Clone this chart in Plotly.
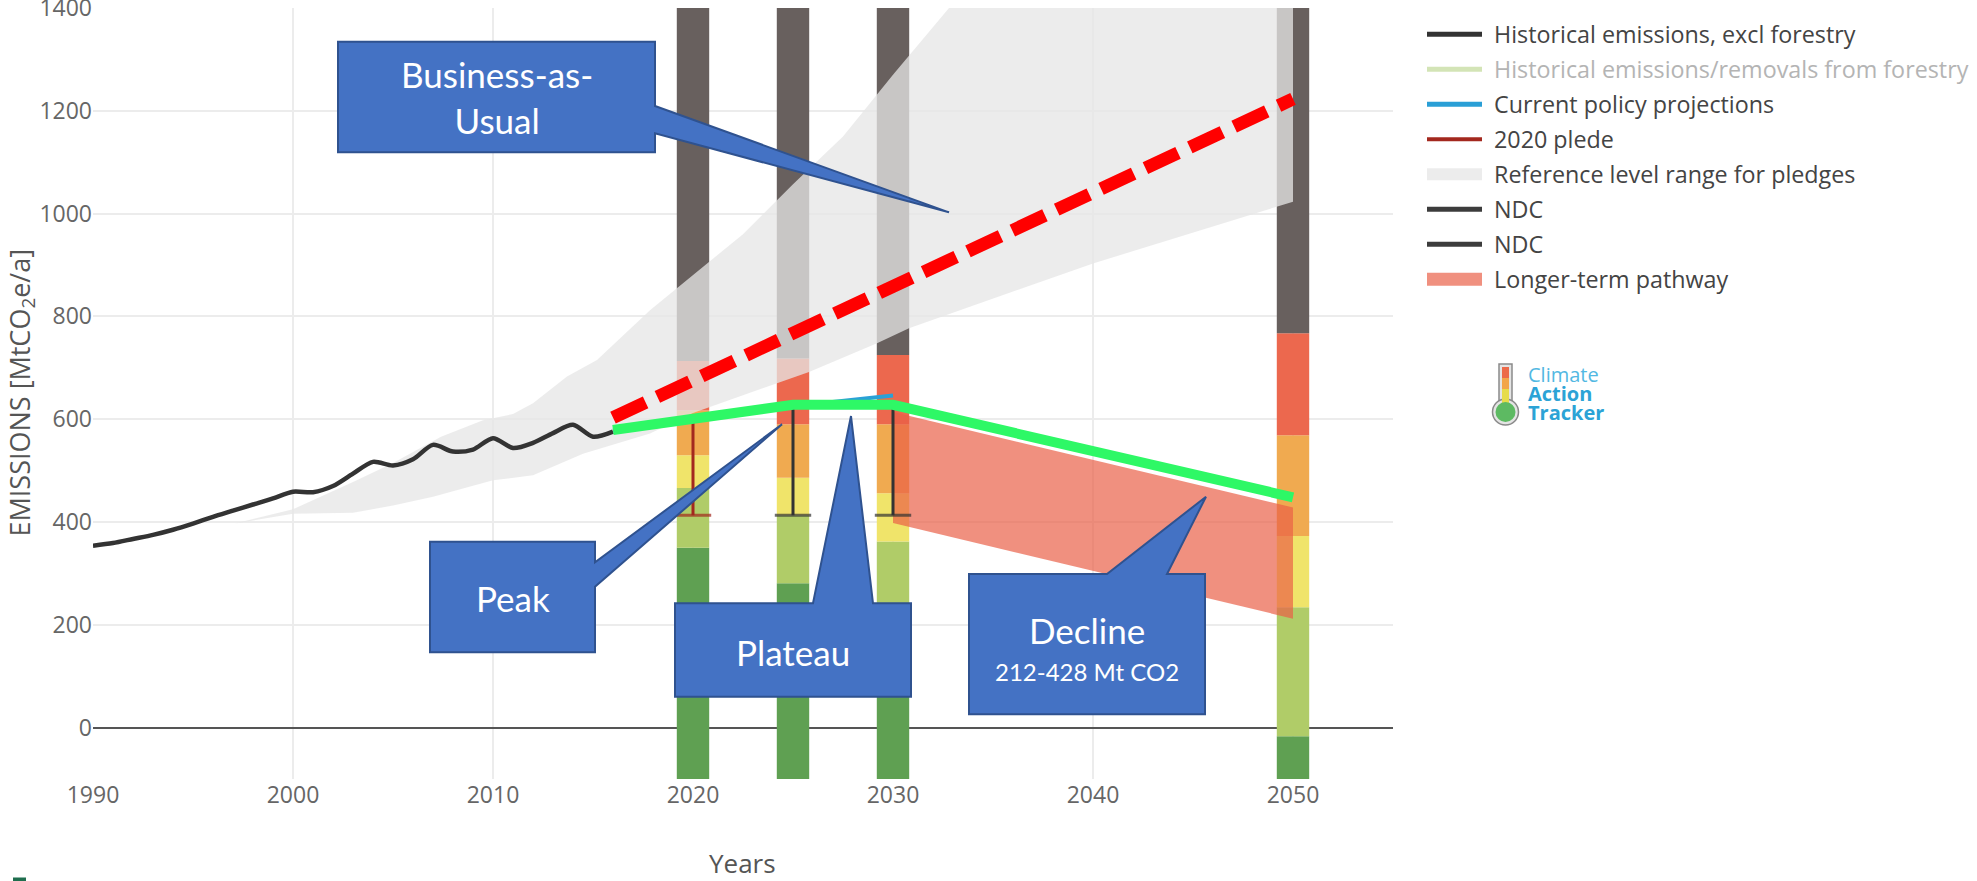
import plotly.graph_objects as go

# ---------------- data (MtCO2e/a) ----------------
hist_years = list(range(1990, 2017))
hist_emissions = [354, 359, 367, 375, 385, 397, 410, 422, 434, 446, 459, 458, 470, 494,
                  517, 510, 522, 550, 537, 541, 563, 544, 554, 573, 589, 566, 576]

# reference level range for pledges: lower and upper edge
ref_low_years = [1997.1, 2000, 2003, 2005, 2007, 2010, 2012, 2014.5, 2017.85, 2020,
                 2024.2, 2025.8, 2029.2, 2030.8, 2040, 2049.2, 2050]
ref_low = [397, 416, 418, 432, 449, 481, 491, 533, 572, 612,
           670, 692, 748, 777, 903, 1014, 1023]
ref_high_years = [1997.1, 2000, 2003, 2005, 2007.4, 2009.5, 2011, 2012, 2013.7, 2015.2,
                  2017.85, 2020, 2022.5, 2025, 2027.5, 2030, 2032.8, 2035, 2050]
ref_high = [397, 425, 478, 515, 566, 598, 610, 631, 683, 715,
            812, 880, 960, 1057, 1150, 1270, 1400, 1500, 2100]

# rating bands behind the target years (upper bound of each coloured segment)
bar_years = [2020, 2025, 2030, 2050]
bar_floor = [-100, -100, -100, -100]
seg_dark_green = [350, 281, 210, -17]
seg_light_green = [466, 413, 362, 234]
seg_yellow = [530, 486, 456, 373]
seg_orange = [617, 590, 590, 569]
seg_red = [713, 718, 725, 767]
seg_grey = [1400, 1400, 1400, 1400]

# projections and pathways
cpp_years = [2016, 2020, 2025, 2030]
cpp_values = [578, 600, 625, 646]
ppd_years = [2016, 2025, 2030, 2050]
ppd_values = [579, 628, 628, 448]
bau_years = [2016, 2050]
bau_values = [603, 1223]
ltp_years = [2030, 2050]
ltp_low = [398, 212]
ltp_high = [614, 428]

pledge_years = [2020]
pledge_low = [413]
pledge_high = [598]
ndc_years = [2025, 2030]
ndc_low = [413, 413]
ndc_high = [629, 629]

x_ticks = [1990, 2000, 2010, 2020, 2030, 2040, 2050]
y_ticks = [0, 200, 400, 600, 800, 1000, 1200, 1400]

# ---------------- figure geometry ----------------
W, H = 1977, 881
M_L, M_R, M_T, M_B = 93, 584, 8, 102
PW, PH = W - M_L - M_R, H - M_T - M_B


def px(x):
    return (x - M_L) / PW


def py(y):
    return (H - M_B - y) / PH


fig = go.Figure()

# stacked rating segments
seg_tops = [seg_dark_green, seg_light_green, seg_yellow, seg_orange, seg_red, seg_grey]
seg_colors = ["#5FA052", "#B0CC68", "#F0E46A", "#F0AA50", "#EC684E", "#68605E"]
lower = bar_floor
for tops, col in zip(seg_tops, seg_colors):
    fig.add_trace(go.Bar(
        x=bar_years, y=[t - b for t, b in zip(tops, lower)], base=lower,
        width=1.62, marker=dict(color=col, line=dict(width=0)),
        showlegend=False, hoverinfo="skip"))
    lower = tops

# reference level range (translucent so the bars show through lighter)
fig.add_trace(go.Scatter(
    x=ref_low_years + ref_high_years[::-1], y=ref_low + ref_high[::-1],
    fill="toself", fillcolor="rgba(230,230,230,0.76)", line=dict(width=0),
    mode="lines", showlegend=False, hoverinfo="skip"))

# historical emissions
fig.add_trace(go.Scatter(
    x=hist_years, y=hist_emissions, mode="lines",
    line=dict(color="#333333", width=4.5, shape="spline", smoothing=0.8),
    showlegend=False, hoverinfo="skip"))

# longer-term pathway range
fig.add_trace(go.Scatter(
    x=ltp_years + ltp_years[::-1], y=ltp_low + ltp_high[::-1],
    fill="toself", fillcolor="rgba(233,94,70,0.69)", line=dict(width=0),
    mode="lines", showlegend=False, hoverinfo="skip"))

# current policy projections
fig.add_trace(go.Scatter(
    x=cpp_years, y=cpp_values, mode="lines",
    line=dict(color="#2AA1D6", width=4), showlegend=False, hoverinfo="skip"))

# 2020 pledge and NDC ranges with a cap at the lower end
for yrs, lo, hi, col in [(pledge_years, pledge_low, pledge_high, "#A3281E"),
                         (ndc_years, ndc_low, ndc_high, "#333333")]:
    for yr, l, h in zip(yrs, lo, hi):
        fig.add_trace(go.Scatter(
            x=[yr, yr], y=[l, h], mode="lines+markers",
            line=dict(color=col, width=3),
            marker=dict(symbol="line-ew", size=[26, 0],
                        line=dict(color=col, width=3)),
            showlegend=False, hoverinfo="skip"))

# peak-plateau-decline trajectory
fig.add_trace(go.Scatter(
    x=ppd_years, y=ppd_values, mode="lines",
    line=dict(color="#2EF866", width=10), showlegend=False, hoverinfo="skip"))

# business-as-usual
fig.add_trace(go.Scatter(
    x=bau_years, y=bau_values, mode="lines",
    line=dict(color="#FF0000", width=13, dash="36px,13px"),
    showlegend=False, hoverinfo="skip"))

shapes = []

# vertical grid lines (none on the left border)
for xv in x_ticks[1:]:
    shapes.append(dict(type="line", xref="x", yref="paper", x0=xv, x1=xv, y0=0, y1=1,
                       line=dict(color="#ECECEC", width=2), layer="below"))

# ---------------- callouts ----------------
CALLOUT_FILL = "#4472C4"
CALLOUT_EDGE = "#2F528F"


def callout_path(points):
    return "M " + " L ".join(f"{x},{y}" for x, y in points) + " Z"


callouts = [
    # Business-as-Usual: box with pointer leaving the right edge
    [(2002.25, 1334.4), (2018.1, 1334.4), (2018.1, 1209.3), (2032.8, 1002.5),
     (2018.1, 1156.2), (2018.1, 1119.3), (2002.25, 1119.3)],
    # Peak
    [(2006.85, 361.7), (2015.1, 361.7), (2015.1, 321.6), (2024.45, 590.0),
     (2015.1, 274.1), (2015.1, 146.5), (2006.85, 146.5)],
    # Plateau: pointer leaving the top edge
    [(2019.1, 241.8), (2026.0, 241.8), (2027.9, 606.2), (2029.0, 241.8),
     (2030.9, 241.8), (2030.9, 60.1), (2019.1, 60.1)],
    # Decline
    [(2033.8, 298.8), (2040.7, 298.8), (2045.65, 449.2), (2043.7, 298.8),
     (2045.6, 298.8), (2045.6, 25.9), (2033.8, 25.9)],
]
for pts in callouts:
    shapes.append(dict(type="path", xref="x", yref="y", path=callout_path(pts),
                       fillcolor=CALLOUT_FILL, line=dict(color=CALLOUT_EDGE, width=2),
                       layer="above"))

annotations = []
CALLOUT_FONT = "Lato"
annotations += [
    dict(x=2010.2, y=1227, xref="x", yref="y", text="Business-as-<br>Usual",
         showarrow=False, font=dict(family=CALLOUT_FONT, size=35, color="white")),
    dict(x=2010.98, y=253, xref="x", yref="y", text="Peak", showarrow=False,
         font=dict(family=CALLOUT_FONT, size=35, color="white")),
    dict(x=2025.0, y=147, xref="x", yref="y", text="Plateau", showarrow=False,
         font=dict(family=CALLOUT_FONT, size=35, color="white")),
    dict(x=2039.7, y=189, xref="x", yref="y", text="Decline", showarrow=False,
         font=dict(family=CALLOUT_FONT, size=35, color="white")),
    dict(x=2039.7, y=110, xref="x", yref="y", text="212-428 Mt CO2", showarrow=False,
         font=dict(family=CALLOUT_FONT, size=24, color="white")),
]

# ---------------- legend (drawn beside the plot) ----------------
legend_items = [
    ("line", "#333333", 5, "Historical emissions, excl forestry", "#444444"),
    ("line", "#D3E4B6", 5, "Historical emissions/removals from forestry", "#B4B4B4"),
    ("line", "#2A9FD6", 5, "Current policy projections", "#444444"),
    ("line", "#A3281E", 4, "2020 plede", "#444444"),
    ("rect", "#ECECEC", 12, "Reference level range for pledges", "#444444"),
    ("line", "#3C3C3C", 5, "NDC", "#444444"),
    ("line", "#3C3C3C", 5, "NDC", "#444444"),
    ("rect", "#F0907F", 13, "Longer-term pathway", "#444444"),
]
for i, (kind, col, thick, label, tcol) in enumerate(legend_items):
    yc = 34.3 + 35 * i
    if kind == "line":
        shapes.append(dict(type="line", xref="paper", yref="paper",
                           x0=px(1427), x1=px(1482), y0=py(yc), y1=py(yc),
                           line=dict(color=col, width=thick)))
    else:
        shapes.append(dict(type="rect", xref="paper", yref="paper",
                           x0=px(1427), x1=px(1482), y0=py(yc - thick / 2),
                           y1=py(yc + thick / 2), fillcolor=col, line=dict(width=0)))
    annotations.append(dict(x=px(1492), y=py(yc), xref="paper", yref="paper",
                            text=label, showarrow=False, xanchor="left",
                            yanchor="middle",
                            font=dict(family="Open Sans", size=23.3, color=tcol)))

# ---------------- thermometer logo ----------------
shapes += [
    dict(type="rect", xref="paper", yref="paper", x0=px(1499), x1=px(1512),
         y0=py(404), y1=py(364), fillcolor="#E4E4E4",
         line=dict(color="#8A8A8A", width=1.5)),
    dict(type="circle", xref="paper", yref="paper", x0=px(1492.5), x1=px(1518.5),
         y0=py(425), y1=py(399), fillcolor="#E4E4E4",
         line=dict(color="#8A8A8A", width=1.5)),
    dict(type="rect", xref="paper", yref="paper", x0=px(1502), x1=px(1509),
         y0=py(378), y1=py(367), fillcolor="#EC6A4A", line=dict(width=0)),
    dict(type="rect", xref="paper", yref="paper", x0=px(1502), x1=px(1509),
         y0=py(389), y1=py(378), fillcolor="#F2A54A", line=dict(width=0)),
    dict(type="rect", xref="paper", yref="paper", x0=px(1502), x1=px(1509),
         y0=py(403), y1=py(389), fillcolor="#E6DC4A", line=dict(width=0)),
    dict(type="circle", xref="paper", yref="paper", x0=px(1495.5), x1=px(1515.5),
         y0=py(422), y1=py(402), fillcolor="#5DBA62", line=dict(width=0)),
]
annotations += [
    dict(x=px(1526), y=py(374), xref="paper", yref="paper", text="Climate",
         showarrow=False, xanchor="left", yanchor="middle",
         font=dict(family="Open Sans", size=20, color="#52B8E2")),
    dict(x=px(1526), y=py(393), xref="paper", yref="paper", text="<b>Action</b>",
         showarrow=False, xanchor="left", yanchor="middle",
         font=dict(family="Open Sans", size=20, color="#2CA3D6")),
    dict(x=px(1526), y=py(412), xref="paper", yref="paper", text="<b>Tracker</b>",
         showarrow=False, xanchor="left", yanchor="middle",
         font=dict(family="Open Sans", size=20, color="#2CA3D6")),
]

# small mark at the lower left corner
shapes.append(dict(type="rect", xref="paper", yref="paper", x0=px(13), x1=px(26),
                   y0=py(881), y1=py(877.5), fillcolor="#1F6E4E", line=dict(width=0)))

# ---------------- axis titles ----------------
annotations += [
    dict(x=px(20.5), y=py(393), xref="paper", yref="paper",
         text="EMISSIONS [MtCO<sub>2</sub>e/a]", textangle=-90, showarrow=False,
         xanchor="center", yanchor="middle",
         font=dict(family="Open Sans", size=27, color="#555555")),
    dict(x=px(742), y=py(863), xref="paper", yref="paper", text="Years",
         showarrow=False, xanchor="center", yanchor="middle",
         font=dict(family="Open Sans", size=26, color="#555555")),
]

fig.update_layout(
    width=W, height=H, autosize=False,
    margin=dict(l=M_L, r=M_R, t=M_T, b=M_B, pad=0, autoexpand=False),
    paper_bgcolor="white", plot_bgcolor="white",
    barmode="overlay", showlegend=False,
    font=dict(family="Open Sans", color="#666666"),
    shapes=shapes, annotations=annotations,
    xaxis=dict(range=[1990, 2055], tickvals=x_ticks, automargin=False,
               showgrid=False, zeroline=False,
               showline=False, ticks="", tickfont=dict(size=23, color="#666666")),
    yaxis=dict(range=[-100, 1400], tickvals=y_ticks, ticklabeloverflow="allow",
               automargin=False,
               showgrid=True, gridcolor="#ECECEC", gridwidth=2, zeroline=True,
               zerolinecolor="#555555", zerolinewidth=2, showline=False, ticks="",
               tickfont=dict(size=23, color="#666666")),
)

fig.write_html("out.html", config=dict(displayModeBar=False))
